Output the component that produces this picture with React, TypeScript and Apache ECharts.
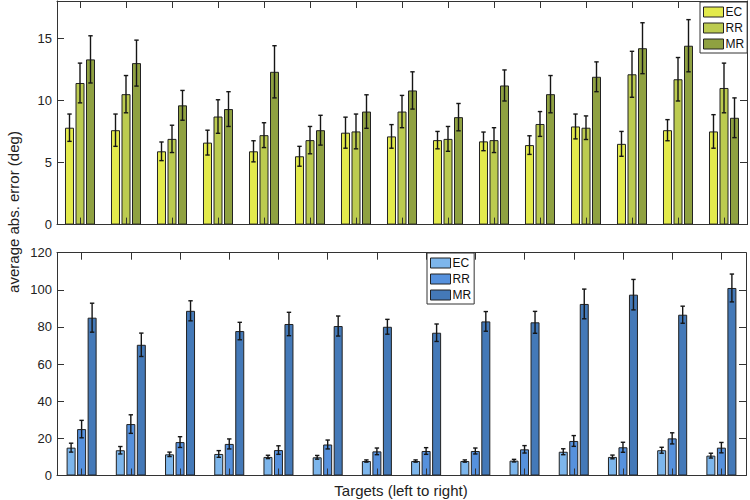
import React, { useEffect, useRef } from "react";
import * as echarts from "echarts";

const seriesNames = ["EC", "RR", "MR"];

const topCategories = ["1", "2", "3", "4", "5", "6", "7", "8", "9", "10", "11", "12", "13", "14", "15"];
const topEC = [7.8, 7.6, 5.9, 6.6, 5.9, 5.5, 7.4, 7.1, 6.8, 6.7, 6.4, 7.9, 6.5, 7.6, 7.5];
const topECErr = [1.1, 1.3, 0.75, 1.0, 0.85, 0.8, 1.25, 0.95, 0.7, 0.75, 0.75, 1.0, 1.0, 0.85, 1.35];
const topRR = [11.4, 10.5, 6.9, 8.7, 7.2, 6.8, 7.5, 9.1, 6.9, 6.8, 8.1, 7.8, 12.1, 11.7, 11.0];
const topRRErr = [1.6, 1.5, 1.1, 1.35, 1.0, 1.1, 1.4, 1.3, 1.0, 1.0, 1.0, 0.95, 1.85, 1.75, 2.0];
const topMR = [13.3, 13.0, 9.6, 9.3, 12.3, 7.6, 9.1, 10.8, 8.65, 11.2, 10.5, 11.9, 14.2, 14.4, 8.6];
const topMRErr = [1.9, 1.85, 1.2, 1.4, 2.1, 1.2, 1.35, 1.5, 1.1, 1.25, 1.5, 1.2, 2.05, 2.1, 1.6];

const bottomCategories = ["1", "2", "3", "4", "5", "6", "7", "8", "9", "10", "11", "12", "13", "14"];
const bottomEC = [15.0, 13.6, 11.4, 11.6, 10.0, 9.8, 7.8, 7.8, 7.8, 8.0, 12.8, 10.0, 13.6, 10.7];
const bottomECErr = [2.4, 2.0, 1.2, 1.8, 0.9, 1.0, 0.6, 0.6, 0.6, 0.7, 1.6, 1.0, 1.6, 1.3];
const bottomRR = [25.0, 27.7, 18.0, 17.0, 13.7, 16.7, 13.0, 13.2, 13.2, 14.1, 18.6, 15.2, 20.0, 15.0];
const bottomRRErr = [4.7, 5.0, 2.9, 2.7, 2.3, 2.4, 1.8, 1.8, 1.6, 2.0, 2.9, 2.7, 3.0, 2.8];
const bottomMR = [85.0, 70.4, 88.7, 77.8, 81.6, 80.5, 80.1, 76.9, 83.0, 82.5, 92.4, 97.4, 86.6, 101.0];
const bottomMRErr = [7.8, 6.3, 5.4, 4.7, 6.3, 5.4, 4.0, 4.7, 5.3, 5.9, 8.0, 8.2, 4.6, 7.5];

const topColors = ["#e3ea4c", "#bccb50", "#8fa141"];
const bottomColors = ["#7db6ec", "#5691dd", "#4479b8"];

const FONT = "Liberation Sans, Arial, Helvetica, sans-serif";
const BAR_W = 9;
const BAR_STEP = 10.5;

function errorSeries(name: string, values: number[], errs: number[], offset: number, xIdx: number, yIdx: number) {
  return {
    type: "custom",
    name: name + "-err",
    xAxisIndex: xIdx,
    yAxisIndex: yIdx,
    z: 5,
    silent: true,
    encode: { x: 0, y: 1 },
    data: values.map((v, i) => [i, v, errs[i]]),
    renderItem: (params: any, api: any) => {
      const i = api.value(0);
      const v = api.value(1);
      const e = api.value(2);
      const hi = api.coord([i, v + e]);
      const lo = api.coord([i, v - e]);
      const x = hi[0] + offset;
      const cap = 2.2;
      const style = { stroke: "#151515", lineWidth: 1.4 };
      return {
        type: "group",
        children: [
          { type: "line", shape: { x1: x, y1: hi[1], x2: x, y2: lo[1] }, style },
          { type: "line", shape: { x1: x - cap, y1: hi[1], x2: x + cap, y2: hi[1] }, style },
          { type: "line", shape: { x1: x - cap, y1: lo[1], x2: x + cap, y2: lo[1] }, style },
        ],
      };
    },
  };
}

function barSeries(name: string, values: number[], color: string, xIdx: number, yIdx: number) {
  return {
    type: "bar",
    name,
    xAxisIndex: xIdx,
    yAxisIndex: yIdx,
    barWidth: BAR_W,
    barGap: ((BAR_STEP - BAR_W) / BAR_W * 100).toFixed(1) + "%",
    itemStyle: { color, borderColor: "#222", borderWidth: 1 },
    data: values,
    z: 2,
  };
}

function xAxes(cats: string[], gridIndex: number) {
  const base = {
    type: "category",
    data: cats,
    gridIndex,
    boundaryGap: true,
    axisLine: { show: true, onZero: false, lineStyle: { color: "#333", width: 1 } },
    axisTick: { show: true, inside: true, alignWithLabel: true, length: 7, lineStyle: { color: "#333" } },
    axisLabel: { show: false },
    splitLine: { show: false },
    z: 6,
  };
  return [
    { ...base, position: "bottom" },
    { ...base, position: "top" },
  ];
}

function yAxes(gridIndex: number, max: number, interval: number, showMax: boolean) {
  const base = {
    type: "value",
    gridIndex,
    min: 0,
    max,
    interval,
    axisLine: { show: true, onZero: false, lineStyle: { color: "#333", width: 1 } },
    axisTick: { show: true, inside: true, length: 7, lineStyle: { color: "#333" } },
    splitLine: { show: false },
    z: 6,
  };
  return [
    {
      ...base,
      position: "left",
      axisLabel: { show: true, color: "#222", fontSize: 13, fontFamily: FONT, margin: 5, showMaxLabel: showMax },
    },
    { ...base, position: "right", axisLabel: { show: false } },
  ];
}

export default function App() {
  const ref = useRef<HTMLDivElement>(null);
  useEffect(() => {
    if (!ref.current) return;
    const chart = echarts.init(ref.current, null, { renderer: "svg" });
    const legendBase = {
      orient: "vertical",
      itemWidth: 20,
      itemHeight: 10,
      itemGap: 4,
      padding: [4, 3, 3, 3],
      borderColor: "#333",
      borderWidth: 1,
      backgroundColor: "#fff",
      icon: "rect",
      selectedMode: false,
      textStyle: { fontSize: 12, fontFamily: FONT, color: "#111", padding: [0, 0, 0, -3] },
      z: 10,
    };
    chart.setOption({
      animation: false,
      backgroundColor: "#fff",
      grid: [
        { left: 57, top: 1, width: 690, height: 223.6, show: false },
        { left: 57, top: 252.7, width: 689, height: 222.8, show: false },
      ],
      xAxis: [...xAxes(topCategories, 0), ...xAxes(bottomCategories, 1)],
      yAxis: [...yAxes(0, 18, 5, false), ...yAxes(1, 120, 20, true)],
      legend: [
        {
          ...legendBase,
          left: 700,
          top: 2,
          data: seriesNames.map((n, i) => ({
            name: n,
            itemStyle: { color: topColors[i], borderColor: "#222", borderWidth: 1 },
          })),
        },
        {
          ...legendBase,
          left: 427,
          top: 253,
          data: seriesNames.map((n, i) => ({
            name: n,
            itemStyle: { color: bottomColors[i], borderColor: "#222", borderWidth: 1 },
          })),
        },
      ],
      graphic: [
        {
          type: "text",
          x: 13,
          y: 212,
          rotation: Math.PI / 2,
          style: {
            text: "average abs. error (deg)",
            fontSize: 15,
            fontFamily: FONT,
            fill: "#222",
            align: "center",
            verticalAlign: "middle",
          },
        },
        {
          type: "text",
          x: 401,
          y: 490,
          style: {
            text: "Targets (left to right)",
            fontSize: 15,
            fontFamily: FONT,
            fill: "#222",
            align: "center",
            verticalAlign: "middle",
          },
        },
      ],
      series: [
        barSeries("EC", topEC, topColors[0], 0, 0),
        barSeries("RR", topRR, topColors[1], 0, 0),
        barSeries("MR", topMR, topColors[2], 0, 0),
        errorSeries("EC", topEC, topECErr, -BAR_STEP, 0, 0),
        errorSeries("RR", topRR, topRRErr, 0, 0, 0),
        errorSeries("MR", topMR, topMRErr, BAR_STEP, 0, 0),
        barSeries("EC", bottomEC, bottomColors[0], 2, 2),
        barSeries("RR", bottomRR, bottomColors[1], 2, 2),
        barSeries("MR", bottomMR, bottomColors[2], 2, 2),
        errorSeries("EC", bottomEC, bottomECErr, -BAR_STEP, 2, 2),
        errorSeries("RR", bottomRR, bottomRRErr, 0, 2, 2),
        errorSeries("MR", bottomMR, bottomMRErr, BAR_STEP, 2, 2),
      ],
    });
    return () => chart.dispose();
  }, []);
  return <div ref={ref} style={{ width: 750, height: 500, position: "absolute", left: 0, top: 0 }} />;
}
